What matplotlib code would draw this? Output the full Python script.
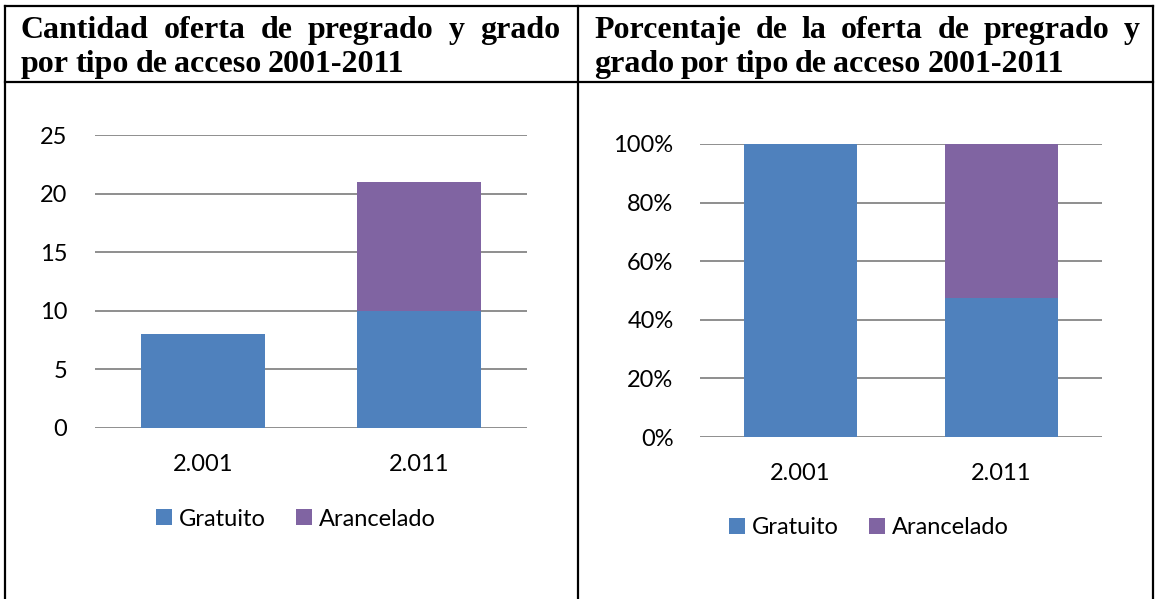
import matplotlib
matplotlib.use("Agg")
import matplotlib.pyplot as plt
from matplotlib.patches import Patch
from matplotlib.lines import Line2D

# ---- data ----
years = ["2.001", "2.011"]
gratuito = [8, 10]
arancelado = [0, 11]
pct_gratuito = [1.00, 0.476]
pct_arancelado = [0.00, 0.524]
count_ticks = [0, 5, 10, 15, 20, 25]
pct_ticks = [0, 0.2, 0.4, 0.6, 0.8, 1.0]
pct_labels = ["0%", "20%", "40%", "60%", "80%", "100%"]
title_left = [["Cantidad", "oferta", "de", "pregrado", "y", "grado"],
              ["por", "tipo", "de", "acceso", "2001-2011"]]
title_right = [["Porcentaje", "de", "la", "oferta", "de", "pregrado", "y"],
               ["grado", "por", "tipo", "de", "acceso", "2001-2011"]]
legend_names = ["Gratuito", "Arancelado"]

BLUE = "#4F81BD"
PURPLE = "#8064A2"
GRID = "#868686"
W, H = 1159, 599
SANS = ["Lato", "DejaVu Sans"]
FS = 17

fig = plt.figure(figsize=(W / 100, H / 100), dpi=100)
fig.patch.set_facecolor("white")


def fx(px):
    return px / W


def fy(py):
    return 1 - py / H


# ---- table borders ----
lw = 1.6
for x in (5, 578, 1153):
    fig.add_artist(Line2D([fx(x), fx(x)], [fy(6), fy(H + 5)], color="black", lw=lw))
for y in (6, 82):
    fig.add_artist(Line2D([fx(5), fx(1153)], [fy(y), fy(y)], color="black", lw=lw))

# ---- justified titles ----
fig.canvas.draw()
renderer = fig.canvas.get_renderer()
TFS = 23


def place_line(words, x0, x1, ybase, justify):
    texts = []
    widths = []
    for w in words:
        t = fig.text(0, 0, w, family="Liberation Serif", weight="bold", fontsize=TFS,
                     va="baseline", ha="left")
        bb = t.get_window_extent(renderer=renderer)
        texts.append(t)
        widths.append(bb.width)
    space_w = 6.5
    if justify and len(words) > 1:
        gap = (x1 - x0 - sum(widths)) / (len(words) - 1)
    else:
        gap = space_w
    x = x0
    for t, wd in zip(texts, widths):
        t.set_position((fx(x), fy(ybase)))
        x += wd + gap


place_line(title_left[0], 21, 560, 38, True)
place_line(title_left[1], 21, 560, 72, False)
place_line(title_right[0], 594, 1140, 38, True)
place_line(title_right[1], 594, 1140, 72, False)


def style_axes(ax, ticks):
    for s in ax.spines.values():
        s.set_visible(False)
    ax.set_yticks(ticks)
    for t in ticks:
        ax.axhline(t, color=GRID, lw=1.3, zorder=0)
    ax.tick_params(axis="both", length=0, labelsize=FS)
    ax.set_xlim(-0.5, 1.5)


# ---- left chart ----
axL = fig.add_axes([fx(95), fy(428), fx(527) - fx(95), fy(135) - fy(428)])
xs = list(range(len(years)))
axL.bar(xs, gratuito, width=0.575, color=BLUE, zorder=2)
axL.bar(xs, arancelado, width=0.575, bottom=gratuito, color=PURPLE, zorder=2)
axL.set_ylim(0, 25)
axL.set_xticks(xs)
axL.set_xticklabels(years)
style_axes(axL, count_ticks)
axL.set_yticklabels([str(t) for t in count_ticks])
axL.tick_params(axis="y", pad=20)
axL.tick_params(axis="x", pad=19)
for lab in axL.get_xticklabels() + axL.get_yticklabels():
    lab.set_family(SANS)

# ---- right chart ----
axR = fig.add_axes([fx(700), fy(437), fx(1102) - fx(700), fy(144) - fy(437)])
axR.bar(xs, pct_gratuito, width=0.567, color=BLUE, zorder=2)
axR.bar(xs, pct_arancelado, width=0.567, bottom=pct_gratuito, color=PURPLE, zorder=2)
axR.set_ylim(0, 1)
axR.set_xticks(xs)
axR.set_xticklabels(years)
style_axes(axR, pct_ticks)
axR.set_yticklabels(pct_labels)
axR.tick_params(axis="y", pad=19)
axR.tick_params(axis="x", pad=19)
for lab in axR.get_xticklabels() + axR.get_yticklabels():
    lab.set_family(SANS)

# ---- legends ----
handles = [Patch(facecolor=BLUE, edgecolor="none"), Patch(facecolor=PURPLE, edgecolor="none")]
for cx, cy in ((296, 519), (869, 528)):
    fig.legend(handles, legend_names, loc="center", bbox_to_anchor=(fx(cx), fy(cy)),
               ncol=2, frameon=False, prop={"family": SANS, "size": FS},
               handlelength=0.65, handleheight=0.65, handletextpad=0.3,
               columnspacing=1.3, borderpad=0, borderaxespad=0)

fig.savefig("out.png", dpi=100, facecolor="white")
